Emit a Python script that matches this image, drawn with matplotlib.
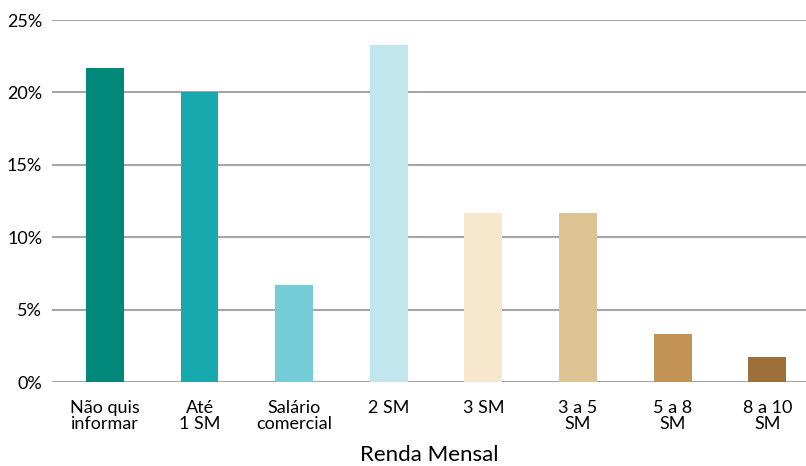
import matplotlib.pyplot as plt
from matplotlib.ticker import PercentFormatter

categorias = ["Não quis\ninformar", "Até\n1 SM", "Salário\ncomercial", "2 SM",
              "3 SM", "3 a 5\nSM", "5 a 8\nSM", "8 a 10\nSM"]
valores = [21.7, 20.0, 6.7, 23.3, 11.7, 11.7, 3.3, 1.7]
cores = ["#00897b", "#17a9ae", "#74cdd6", "#c2e6ee",
         "#f5e6cc", "#dfc493", "#c29352", "#9c7038"]

plt.rcParams["font.family"] = ["Lato", "DejaVu Sans"]

fig = plt.figure(figsize=(8.06, 4.66), dpi=100)
ax = fig.add_axes([0.0645, 0.18, 0.9355, 0.777])

x = range(len(categorias))
ax.bar(x, valores, width=0.4, color=cores, zorder=3)

ax.set_ylim(0, 25)
ax.set_yticks([0, 5, 10, 15, 20, 25])
ax.yaxis.set_major_formatter(PercentFormatter(decimals=0))
ax.set_xlim(-0.56, 7.41)
ax.set_xticks(list(x))
ax.set_xticklabels(categorias, fontsize=13, linespacing=0.95)
ax.tick_params(axis="y", labelsize=13, length=0, pad=7)
ax.tick_params(axis="x", length=0, pad=13)
ax.grid(axis="y", color="#a6a6a6", linewidth=1.5, zorder=0)
for s in ax.spines.values():
    s.set_visible(False)

ax.set_xlabel("Renda Mensal", fontsize=16, labelpad=10)

fig.savefig("out.png", dpi=100)
